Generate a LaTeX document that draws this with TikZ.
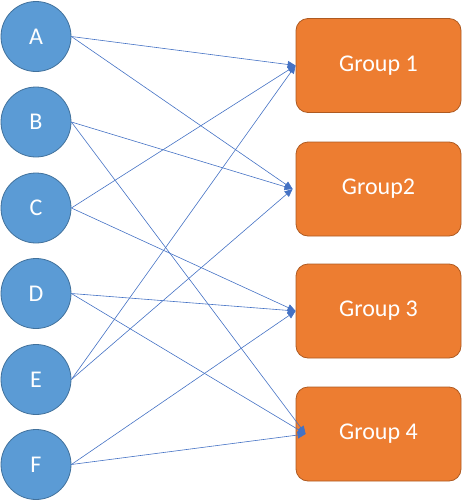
\documentclass[tikz,border=0pt]{standalone}
\usepackage{fontspec}
\setmainfont{Carlito}
\usepackage{tikz}
\usetikzlibrary{arrows.meta,positioning}
\definecolor{nodeblue}{RGB}{91,155,213}
\definecolor{nodeblueedge}{RGB}{65,113,156}
\definecolor{grporange}{RGB}{237,125,49}
\definecolor{grpedge}{RGB}{174,90,33}
\definecolor{linkblue}{RGB}{68,114,196}
\tikzset{
  item/.style={circle,draw=nodeblueedge,fill=nodeblue,minimum size=70pt,
               inner sep=0pt,line width=0.8pt,text=white,
               font=\fontsize{24}{28}\selectfont},
  grp/.style={draw=grpedge,fill=grporange,rounded corners=12pt,
              minimum width=165pt,minimum height=94pt,inner sep=0pt,
              line width=0.8pt,text=white,font=\fontsize{24}{28}\selectfont},
  link/.style={-{Triangle[length=8pt,width=7pt]},draw=linkblue,
               line width=0.6pt},
}
\begin{document}
\begin{tikzpicture}[x=1pt,y=-1pt]
  \useasboundingbox (0,0) rectangle (462,501);
  \node[item] (a) at (36,36.5)  {A};
  \node[item] (b) at (36,122)   {B};
  \node[item] (c) at (36,208)   {C};
  \node[item] (d) at (36,293.5) {D};
  \node[item] (e) at (36,379.5) {E};
  \node[item] (f) at (36,464.5) {F};

  \node[grp] (g1) at (378.5,65.5) {Group 1};
  \node[grp] (g2) at (378.5,189)  {Group2};
  \node[grp] (g3) at (378.5,311)  {Group 3};
  \node[grp] (g4) at (378.5,434)  {Group 4};

  \draw[link] (a.east) -- (g1.west);
  \draw[link] (a.east) -- ([xshift=-3pt]g2.west);
  \draw[link] (b.east) -- ([xshift=-3pt]g2.west);
  \draw[link] (b.east) -- ([xshift=10pt]g4.west);
  \draw[link] (c.east) -- (g1.west);
  \draw[link] (c.east) -- (g3.west);
  \draw[link] (d.east) -- (g3.west);
  \draw[link] (d.east) -- ([xshift=10pt]g4.west);
  \draw[link] (e.east) -- (g1.west);
  \draw[link] (e.east) -- ([xshift=-3pt]g2.west);
  \draw[link] (f.east) -- (g3.west);
  \draw[link] (f.east) -- ([xshift=10pt]g4.west);
\end{tikzpicture}
\end{document}
